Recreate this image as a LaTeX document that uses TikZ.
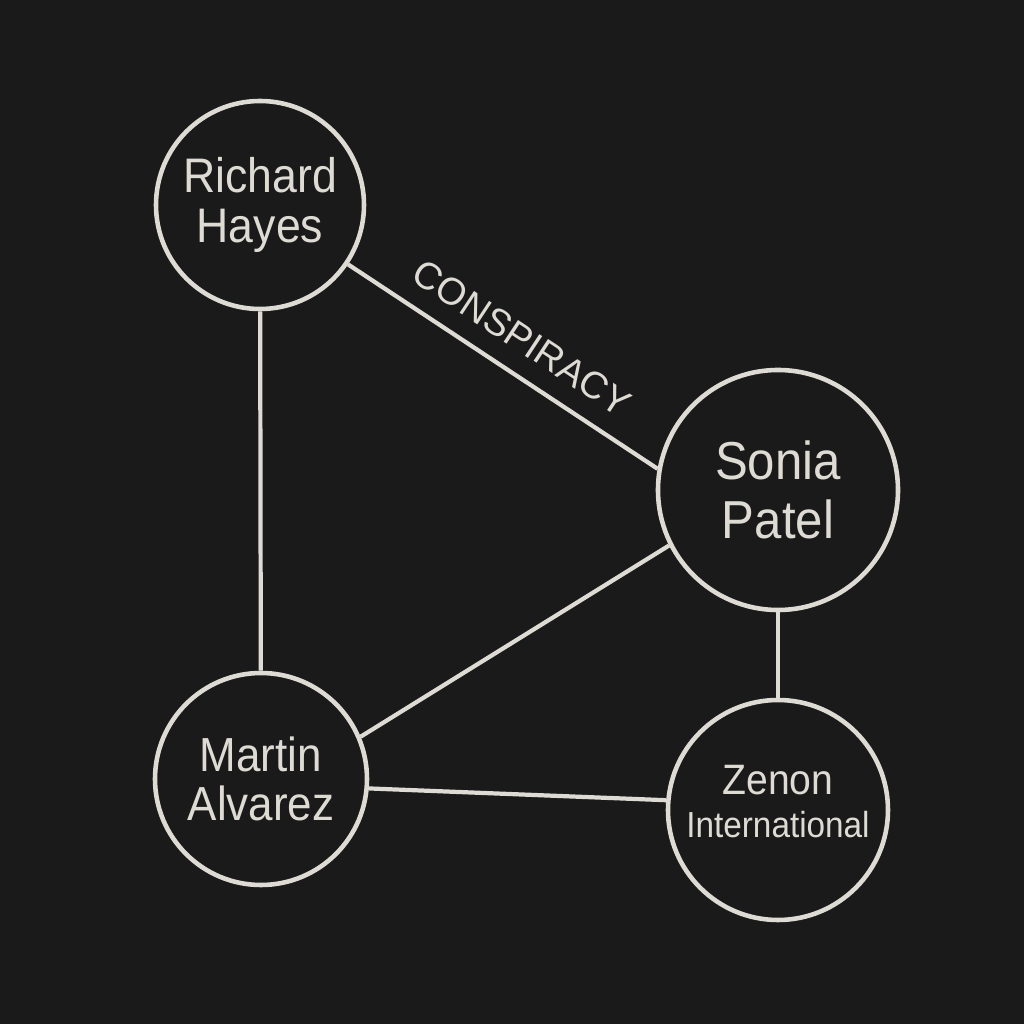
\documentclass[tikz,border=0pt]{standalone}
\usepackage{fontspec}
\setmainfont{Liberation Sans}[FakeStretch = 0.92]
\newfontfamily\tagfont{Liberation Sans}
\usepackage{tikz}

\definecolor{board}{HTML}{1A1A1A}
\definecolor{chalk}{HTML}{DDDBD3}

\begin{document}
\begin{tikzpicture}[
  line width = 1.2pt,
  chalk,
  suspect/.style = {draw, circle, inner sep = 0pt, line width = 1.3pt,
    text = chalk, align = center},
  ]

  \fill [board] (0, 0) rectangle (10.24, 10.24);

  \node at (2.60, 8.19)
  [suspect, minimum size = 2.08cm, font = \fontsize{13.8}{14.3}\selectfont,
    name = Hayes] {Richard\\Hayes};

  \node at (7.78, 5.34)
  [suspect, minimum size = 2.40cm, font = \fontsize{15.2}{17}\selectfont,
    name = Patel] {Sonia\\Patel};

  \node at (2.61, 2.45)
  [suspect, minimum size = 2.12cm, font = \fontsize{13.6}{13.8}\selectfont,
    name = Alvarez] {Martin\\Alvarez};

  \node at (7.78, 2.14)
  [suspect, minimum size = 2.20cm, font = \fontsize{12.1}{12.2}\selectfont,
    text depth = 5pt, name = Zenon]
  {Zenon\\{\fontsize{10.3}{12.2}\selectfont International}};

  \draw (Hayes.-34) to node [above = 2pt, sloped,
    font = \tagfont\fontsize{10.8}{12}\selectfont] {CONSPIRACY} (Patel.170);

  \draw (Hayes) to (Alvarez);

  \draw (Alvarez.23) to (Patel.207);

  \draw (Alvarez.-5) to (Zenon.175);

  \draw (Patel) to (Zenon);

\end{tikzpicture}
\end{document}
